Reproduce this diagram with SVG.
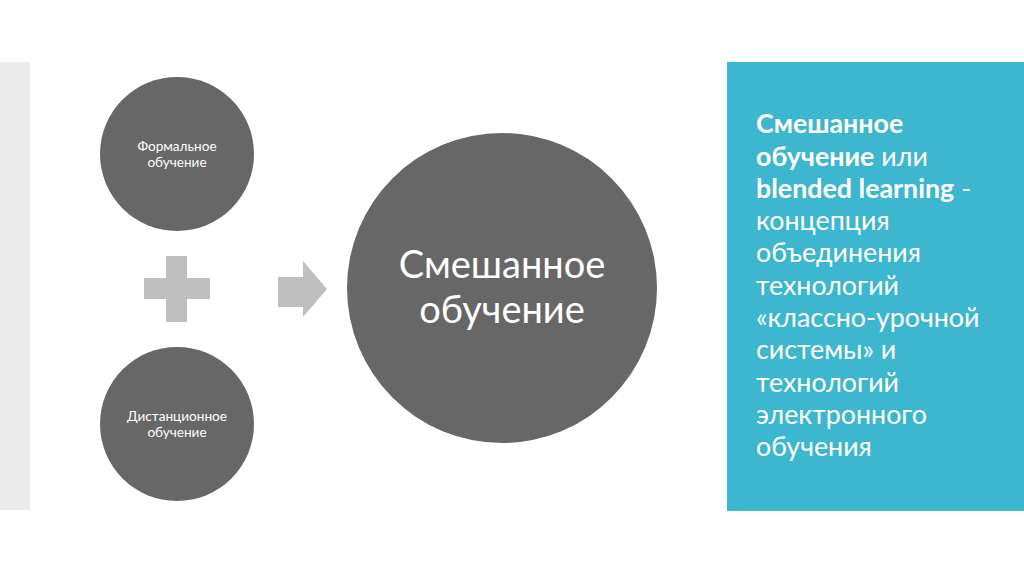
<svg xmlns="http://www.w3.org/2000/svg" width="1024" height="574" viewBox="0 0 1024 574">
<style>
.node{fill:#676767}
.shape{fill:#bfbfbf}
.t{font-family:Lato,"Open Sans","Noto Sans",sans-serif;fill:#ffffff}
.sm{font-size:13.6px}
.big{font-size:38px}
.side{font-size:26.8px}
.b{font-weight:bold}
</style>
<rect x="0" y="0" width="1024" height="574" fill="#ffffff"/>
<rect x="0" y="62" width="30" height="448" fill="#ebebeb"/>
<rect x="727" y="62" width="297" height="449" fill="#3db6d0"/>
<g id="formal">
<circle class="node" cx="177" cy="154" r="77"/>
<text class="t sm" text-anchor="middle"><tspan x="177" y="151">Формальное</tspan><tspan x="177" y="167">обучение</tspan></text>
</g>
<g id="distance">
<circle class="node" cx="177" cy="424" r="77"/>
<text class="t sm" text-anchor="middle"><tspan x="177" y="421">Дистанционное</tspan><tspan x="177" y="437">обучение</tspan></text>
</g>
<g id="plus">
<rect class="shape" x="144" y="278" width="66" height="21"/>
<rect class="shape" x="166" y="256" width="21" height="66"/>
</g>
<g id="connectors">
<polygon class="shape" points="278,277 303,277 303,261 327,289 303,317 303,307 278,307"/>
</g>
<g id="blended">
<circle class="node" cx="502" cy="288" r="155"/>
<text class="t big" text-anchor="middle"><tspan x="502" y="278">Смешанное</tspan><tspan x="502" y="323">обучение</tspan></text>
</g>
<g id="definition">
<text class="t side">
<tspan x="756" y="133" class="b">Смешанное</tspan>
<tspan x="756" y="165.5"><tspan class="b">обучение</tspan> или</tspan>
<tspan x="756" y="197.5"><tspan class="b">blended learning</tspan> -</tspan>
<tspan x="756" y="230">концепция</tspan>
<tspan x="756" y="262">объединения</tspan>
<tspan x="756" y="294.5">технологий</tspan>
<tspan x="756" y="327">«классно-урочной</tspan>
<tspan x="756" y="359">системы» и</tspan>
<tspan x="756" y="391.5">технологий</tspan>
<tspan x="756" y="424">электронного</tspan>
<tspan x="756" y="456">обучения</tspan>
</text>
</g>
</svg>
